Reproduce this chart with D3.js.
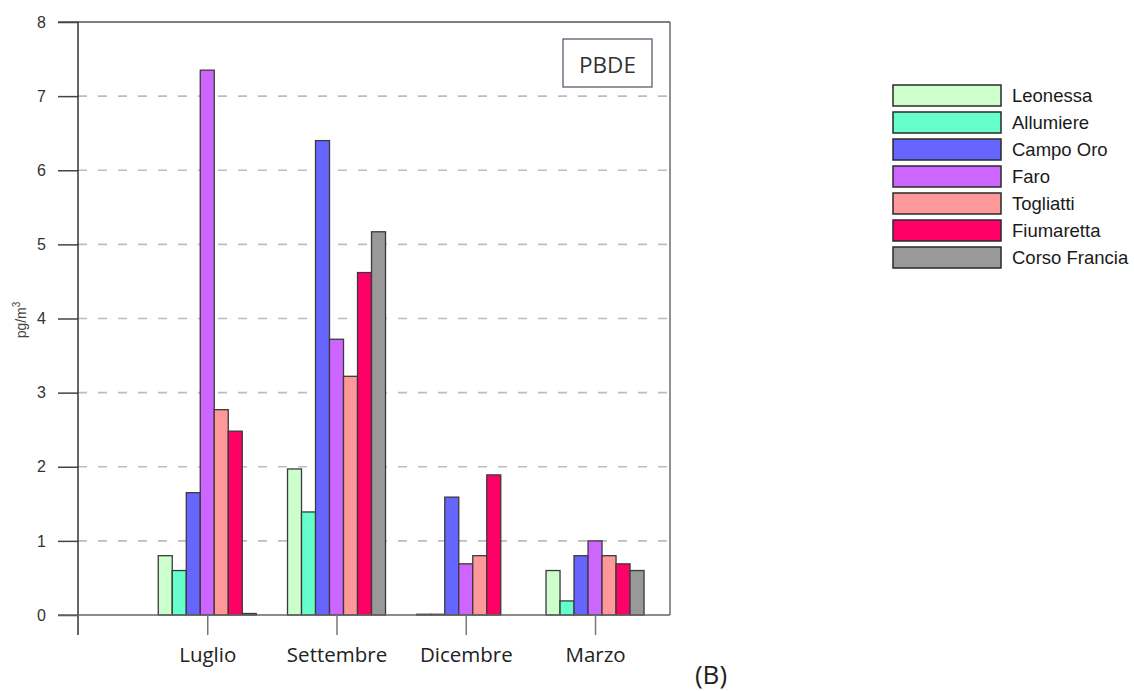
<!DOCTYPE html>
<html>
<head>
<meta charset="utf-8">
<script src="https://cdnjs.cloudflare.com/ajax/libs/d3/7.8.5/d3.min.js"></script>
<style>
  body { margin: 0; background: #fff; }
  svg { display: block; }
</style>
</head>
<body>
<div id="chart"></div>
<script>
// data
var months = ["Luglio", "Settembre", "Dicembre", "Marzo"];
var sites = ["Leonessa", "Allumiere", "Campo Oro", "Faro", "Togliatti", "Fiumaretta", "Corso Francia"];
var siteColors = ["#ccffcc", "#66ffcc", "#6666ff", "#cc66ff", "#ff9999", "#ff0066", "#999999"];
var leonessa     = [0.80, 1.97, 0.01, 0.60];
var allumiere    = [0.60, 1.39, 0.01, 0.19];
var campoOro     = [1.65, 6.40, 1.59, 0.80];
var faro         = [7.35, 3.72, 0.69, 1.00];
var togliatti    = [2.77, 3.22, 0.80, 0.80];
var fiumaretta   = [2.48, 4.62, 1.89, 0.69];
var corsoFrancia = [0.02, 5.17, 0, 0.60];
var yTicks = [0, 1, 2, 3, 4, 5, 6, 7, 8];

var series = [leonessa, allumiere, campoOro, faro, togliatti, fiumaretta, corsoFrancia];

var W = 1134, H = 691;
var svg = d3.select("#chart").append("svg")
    .attr("width", W)
    .attr("height", H);

var pLeft = 78, pRight = 670, pTop = 22, pBottom = 615;

// months sit at positions 1..4, axis starts at 0
var x = d3.scaleLinear().domain([0, 4.58]).range([pLeft, pRight]);
var y = d3.scaleLinear().domain([0, 8]).range([pBottom, pTop]);
var barW = 14;

// dashed grid
svg.selectAll(".grid")
    .data(yTicks.filter(function(d) { return d > 0 && d < 8; }))
  .enter().append("line")
    .attr("x1", pLeft).attr("x2", pRight)
    .attr("y1", function(d) { return y(d); })
    .attr("y2", function(d) { return y(d); })
    .attr("stroke", "#bdbdbd")
    .attr("stroke-width", 1.6)
    .attr("stroke-dasharray", "9,11");

// bars
series.forEach(function(vals, s) {
  svg.selectAll(".bar" + s)
      .data(vals)
    .enter().append("rect")
      .attr("x", function(d, i) { return x(i + 1) + (s - 3.5) * barW; })
      .attr("width", barW)
      .attr("y", function(d) { return y(d); })
      .attr("height", function(d) { return y(0) - y(d); })
      .attr("fill", siteColors[s])
      .attr("stroke", "#3a3a3a")
      .attr("stroke-width", function(d) { return d > 0 ? 1.3 : 0; });
});

// frame: top and right
svg.append("line").attr("x1", 58).attr("x2", pRight).attr("y1", pTop).attr("y2", pTop)
    .attr("stroke", "#555").attr("stroke-width", 1.3);
svg.append("line").attr("x1", pRight).attr("x2", pRight).attr("y1", pTop).attr("y2", pBottom)
    .attr("stroke", "#555").attr("stroke-width", 1.3);

// y axis
var yAxis = svg.append("g")
    .attr("transform", "translate(" + pLeft + ",0)")
    .call(d3.axisLeft(y).tickValues(yTicks).tickSize(20).tickPadding(12).tickSizeOuter(0));
yAxis.select(".domain").remove();
yAxis.selectAll(".tick line").attr("stroke", "#444").attr("stroke-width", 1.5);
yAxis.selectAll(".tick text")
    .attr("fill", "#333")
    .style("font-family", "Liberation Sans, Arial, sans-serif")
    .style("font-size", "16px");
svg.append("line").attr("x1", pLeft).attr("x2", pLeft).attr("y1", pTop).attr("y2", 635)
    .attr("stroke", "#333").attr("stroke-width", 1.5);

// bottom axis
svg.append("line").attr("x1", 58).attr("x2", pRight).attr("y1", pBottom).attr("y2", pBottom)
    .attr("stroke", "#666").attr("stroke-width", 1.5);
var xAxis = svg.append("g")
    .attr("transform", "translate(0," + pBottom + ")")
    .call(d3.axisBottom(x).tickValues([1, 2, 3, 4])
      .tickFormat(function(d) { return months[d - 1]; })
      .tickSize(20).tickPadding(12).tickSizeOuter(0));
xAxis.select(".domain").remove();
xAxis.selectAll(".tick line").attr("stroke", "#777").attr("stroke-width", 1.5);
xAxis.selectAll(".tick text")
    .attr("fill", "#222")
    .style("font-family", "Open Sans, sans-serif")
    .style("font-size", "20.5px");

// y label
var yl = svg.append("text")
    .attr("transform", "translate(26,320) rotate(-90)")
    .attr("text-anchor", "middle")
    .attr("fill", "#444")
    .style("font-family", "Liberation Sans, Arial, sans-serif")
    .style("font-size", "14px");
yl.append("tspan").text("pg/m");
yl.append("tspan").attr("dy", -6).style("font-size", "10px").text("3");

// PBDE box
svg.append("rect").attr("x", 563).attr("y", 39).attr("width", 89).attr("height", 48)
    .attr("fill", "#fff").attr("stroke", "#4a5060").attr("stroke-width", 1.2);
svg.append("text").attr("x", 607.5).attr("y", 72.5).attr("text-anchor", "middle")
    .attr("fill", "#333")
    .style("font-family", "Open Sans, sans-serif").style("font-size", "22.5px")
    .text("PBDE");

// legend
var legend = svg.selectAll(".legend")
    .data(sites)
  .enter().append("g")
    .attr("transform", function(d, i) { return "translate(893," + (85 + i * 27) + ")"; });
legend.append("rect")
    .attr("width", 108).attr("height", 21)
    .attr("fill", function(d, i) { return siteColors[i]; })
    .attr("stroke", "#2a2a2a").attr("stroke-width", 1.5);
legend.append("text")
    .attr("x", 119).attr("y", 17)
    .attr("fill", "#1a1a1a")
    .style("font-family", "Liberation Sans, Arial, sans-serif")
    .style("font-size", "18.5px")
    .text(function(d) { return d; });

// panel tag
svg.append("text").attr("x", 711).attr("y", 684).attr("text-anchor", "middle")
    .attr("fill", "#222")
    .style("font-family", "Open Sans, sans-serif").style("font-size", "26px")
    .text("(B)");
</script>
</body>
</html>
